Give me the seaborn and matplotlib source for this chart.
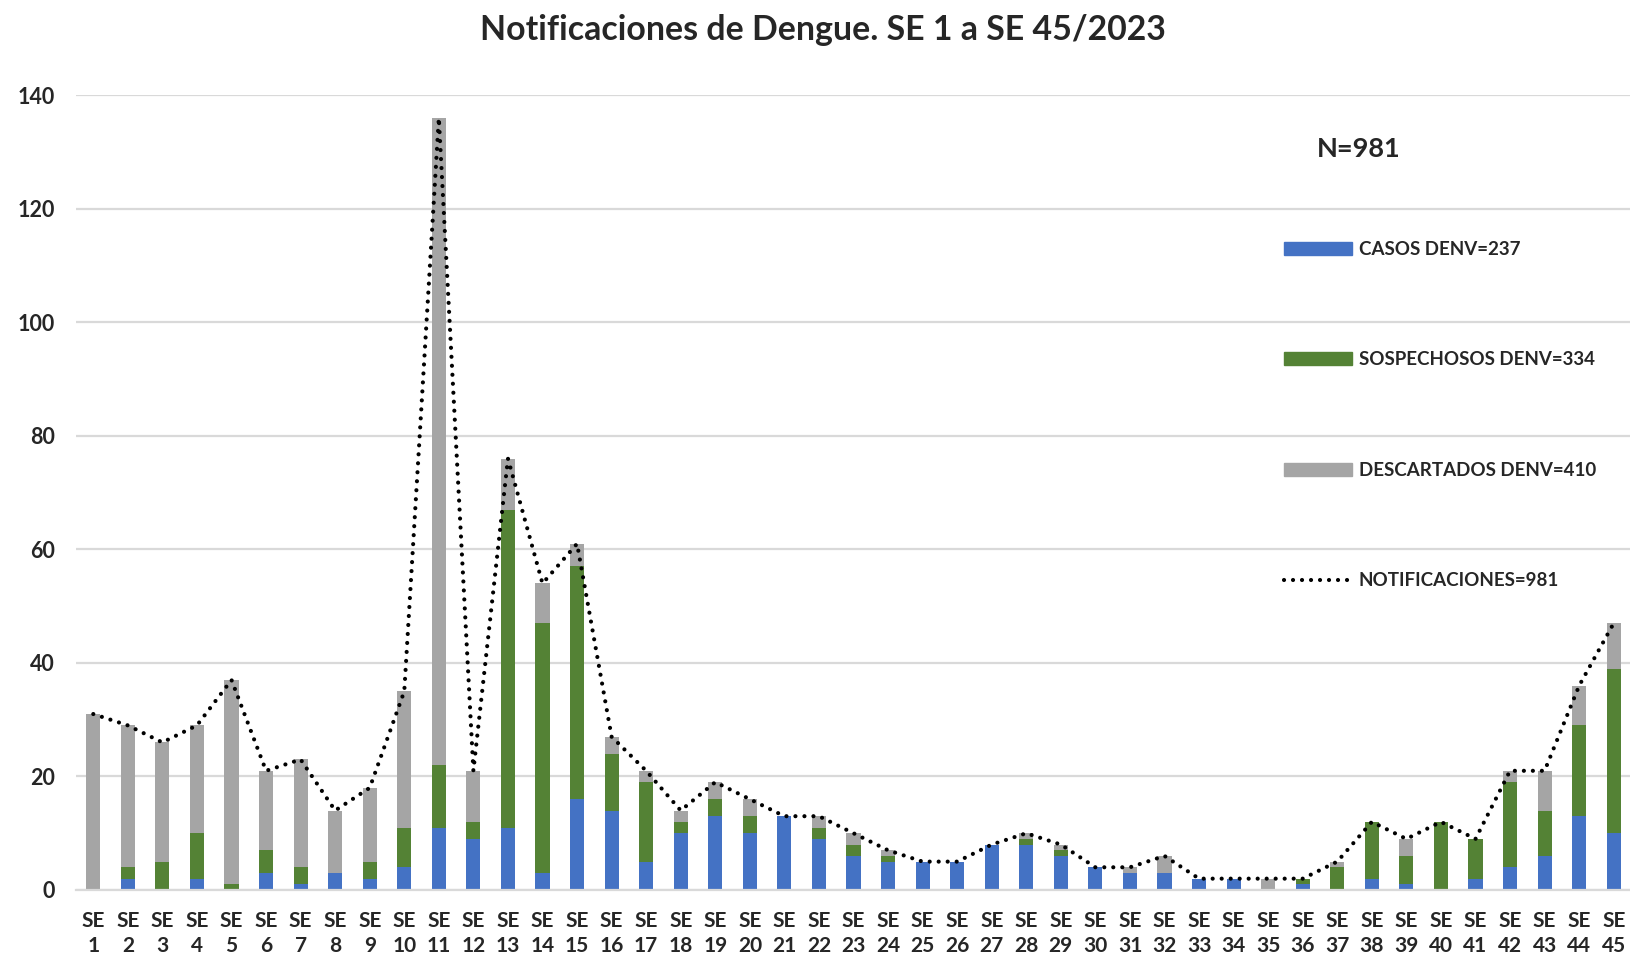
import numpy as np
import pandas as pd
import matplotlib
matplotlib.use("Agg")
import matplotlib.pyplot as plt
import seaborn as sns
from matplotlib.patches import Patch
from matplotlib.lines import Line2D

# datos (SE 1 a SE 45)
semanas = [f"SE\n{i}" for i in range(1, 46)]
casos = [0, 2, 0, 2, 0, 3, 1, 3, 2, 4,
         11, 9, 11, 3, 16, 14, 5, 10, 13, 10,
         13, 9, 6, 5, 5, 5, 8, 8, 6, 4,
         3, 3, 2, 2, 0, 1, 0, 2, 1, 0,
         2, 4, 6, 13, 10]
sospechosos = [0, 2, 5, 8, 1, 4, 3, 0, 3, 7,
               11, 3, 56, 44, 41, 10, 14, 2, 3, 3,
               0, 2, 2, 1, 0, 0, 0, 1, 1, 0,
               0, 0, 0, 0, 0, 1, 4, 10, 5, 12,
               7, 15, 8, 16, 29]
descartados = [31, 25, 21, 19, 36, 14, 19, 11, 13, 24,
               114, 9, 9, 7, 4, 3, 2, 2, 3, 3,
               0, 2, 2, 1, 0, 0, 0, 1, 1, 0,
               1, 3, 0, 0, 2, 0, 1, 0, 3, 0,
               0, 2, 7, 7, 8]
notificaciones = [31, 29, 26, 29, 37, 21, 23, 14, 18, 35,
                  136, 21, 76, 54, 61, 27, 21, 14, 19, 16,
                  13, 13, 10, 7, 5, 5, 8, 10, 8, 4,
                  4, 6, 2, 2, 2, 2, 5, 12, 9, 12,
                  9, 21, 21, 36, 47]

azul = "#4472C4"
verde = "#548235"
gris = "#A5A5A5"
grilla = "#D9D9D9"

df = pd.DataFrame({
    "semana": semanas,
    "casos": casos,
    "sospechosos": sospechosos,
    "descartados": descartados,
    "total": notificaciones,
})
df["casos_sosp"] = df["casos"] + df["sospechosos"]

sns.set_style("white")
plt.rcParams["font.family"] = ["Lato", "DejaVu Sans"]
plt.rcParams["font.weight"] = "bold"

fig = plt.figure(figsize=(16.31, 9.6), dpi=100)
ax = fig.add_axes([76 / 1631, 70 / 960, 1 - 76 / 1631, (890 - 95.3) / 960])

# barras apiladas (capas acumuladas)
sns.barplot(data=df, x="semana", y="total", color=gris, width=0.41,
            saturation=1, linewidth=0, errorbar=None, ax=ax)
sns.barplot(data=df, x="semana", y="casos_sosp", color=verde, width=0.41,
            saturation=1, linewidth=0, errorbar=None, ax=ax)
sns.barplot(data=df, x="semana", y="casos", color=azul, width=0.41,
            saturation=1, linewidth=0, errorbar=None, ax=ax)

puntos = (0, (0.01, 2.15))
sns.lineplot(data=df, x="semana", y="total", sort=False, color="black",
             lw=3, linestyle=puntos, dash_capstyle="round", ax=ax)

ax.set_xlim(-0.5, 44.5)
ax.set_ylim(0, 140)
ax.set_yticks(range(0, 141, 20))
ax.set_xlabel("")
ax.set_ylabel("")
ax.yaxis.grid(True, color=grilla, lw=1.6)
ax.xaxis.grid(False)
ax.set_axisbelow(True)
for lado in ["top", "right", "left"]:
    ax.spines[lado].set_visible(False)
ax.spines["bottom"].set_color(grilla)
ax.spines["bottom"].set_linewidth(1.6)
ax.tick_params(axis="x", length=0, pad=15, labelsize=15)
ax.tick_params(axis="y", length=0, pad=15, labelsize=15.5)
for lbl in ax.get_xticklabels():
    lbl.set_linespacing(1.32)
    lbl.set_fontweight("bold")
for lbl in ax.get_yticklabels():
    lbl.set_fontweight("bold")

fig.text(823 / 1631, 1 - 30 / 960, "Notificaciones de Dengue. SE 1 a SE 45/2023",
         ha="center", va="center", fontsize=24.4, fontweight="bold")
fig.text(1359 / 1631, 1 - 149 / 960, "N=981", ha="center", va="center",
         fontsize=19.5, fontweight="bold")

handles = [
    Patch(color=azul),
    Patch(color=verde),
    Patch(color=gris),
    Line2D([], [], color="black", lw=3, linestyle=puntos, dash_capstyle="round"),
]
labels = ["CASOS DENV=237", "SOSPECHOSOS DENV=334", "DESCARTADOS DENV=410",
          "NOTIFICACIONES=981"]
leg = ax.legend(handles, labels, loc="upper left",
                bbox_to_anchor=(1284 / 1631, 1 - 241 / 960),
                bbox_transform=fig.transFigure, frameon=False,
                prop={"size": 13.5, "weight": "bold"}, handlelength=3.63,
                handleheight=0.69, handletextpad=0.37, labelspacing=4.98,
                borderpad=0, borderaxespad=0)

fig.savefig("out.png", dpi=100)
